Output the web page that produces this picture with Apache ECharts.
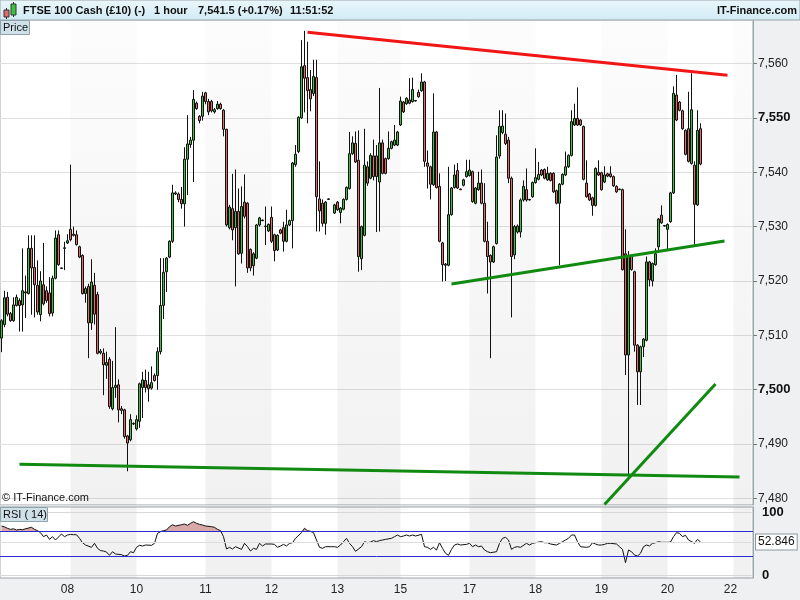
<!DOCTYPE html>
<html>
<head>
<meta charset="utf-8">
<script src="https://cdn.jsdelivr.net/npm/echarts@6/dist/echarts.min.js"></script>
<style>
  html, body { margin: 0; padding: 0; background: #eef0f1; }
  #chart { width: 800px; height: 600px; }
</style>
</head>
<body>
<div id="chart"></div>
<script>
// hourly candles, [open, close, low, high] ; '-' = no bar
const candles = [
  [7509.5,7512.7,7506.9,7513.0],[7512.0,7516.9,7511.5,7518.2],[7517.0,7513.9,7513.5,7518.0],[7514.0,7512.7,7512.5,7514.3],
  [7512.7,7515.6,7512.5,7517.0],[7515.5,7517.0,7515.3,7517.5],[7516.4,7515.5,7510.7,7516.8],[7515.6,7518.2,7510.7,7526.0],
  [7518.0,7517.8,7513.2,7521.0],[7517.7,7526.0,7517.5,7528.4],[7526.0,7522.4,7513.8,7528.4],[7522.5,7519.3,7513.3,7528.4],
  [7519.2,7514.3,7513.8,7523.8],[7513.8,7520.0,7512.6,7521.8],[7519.3,7515.8,7515.5,7527.0],[7518.2,7516.4,7516.0,7519.0],
  [7517.8,7514.0,7513.5,7520.7],[7514.1,7520.5,7513.5,7521.0],[7520.5,7527.9,7520.3,7529.3],[7528.5,7523.0,7522.8,7529.3],
  [7522.3,7522.4,7522.2,7522.5],[7526.0,7526.1,7522.0,7527.2],[7527.0,7527.4,7526.8,7528.6],[7529.5,7527.6,7527.3,7541.4],
  [7528.4,7528.6,7528.2,7530.0],[7528.5,7526.7,7526.5,7529.3],[7526.3,7524.4,7524.2,7526.5],[7524.7,7517.7,7517.5,7524.9],
  [7517.7,7518.6,7516.0,7519.0],[7519.0,7512.3,7505.8,7519.5],[7512.3,7519.8,7511.0,7524.0],[7519.2,7513.9,7512.0,7521.5],
  [7517.5,7506.7,7506.5,7518.0],[7506.8,7507.1,7506.5,7507.5],[7506.7,7504.6,7499.0,7507.6],[7504.5,7505.0,7502.0,7507.0],
  [7505.6,7496.9,7496.5,7506.0],[7496.5,7500.4,7496.2,7505.3],[7500.4,7500.8,7498.5,7511.5],[7500.9,7496.3,7494.0,7501.9],
  [7496.5,7496.2,7495.5,7497.0],[7496.3,7491.4,7491.0,7496.5],[7491.5,7490.2,7485.0,7491.7],[7490.8,7494.5,7490.5,7495.5],
  [7493.7,7493.8,7493.5,7494.0],[7492.8,7494.5,7492.5,7495.3],[7494.2,7501.1,7493.0,7501.3],[7500.4,7501.8,7494.8,7503.3],
  [7501.7,7500.4,7499.5,7503.7],[7500.9,7500.2,7497.8,7503.3],[7500.3,7501.3,7500.0,7504.3],[7502.6,7501.7,7501.5,7503.0],
  [7502.6,7507.0,7500.0,7507.8],[7507.0,7515.5,7506.5,7524.2],[7515.5,7521.6,7513.0,7524.2],[7521.7,7524.2,7518.0,7524.4],
  [7524.4,7527.3,7524.2,7527.5],[7527.3,7536.2,7527.0,7537.7],[7536.2,7536.0,7535.8,7536.5],[7536.0,7535.0,7534.5,7536.3],
  [7535.0,7534.2,7533.3,7537.3],[7534.2,7542.4,7530.0,7544.6],[7542.4,7545.2,7535.8,7550.5],[7545.1,7545.9,7544.5,7546.5],
  [7545.9,7553.4,7538.2,7555.1],[7552.7,7551.7,7551.5,7553.0],[7550.3,7549.5,7549.0,7550.5],[7550.3,7554.0,7549.5,7554.8],
  [7554.6,7553.0,7552.5,7554.8],[7553.0,7551.1,7550.5,7553.5],[7553.0,7551.3,7551.0,7553.3],[7551.1,7551.5,7550.8,7551.8],
  [7551.7,7552.5,7551.5,7553.1],[7552.5,7551.7,7551.5,7552.8],[7551.4,7547.9,7546.6,7551.6],[7547.9,7530.3,7530.0,7548.0],
  [7529.8,7533.6,7529.5,7534.0],[7533.3,7529.4,7527.5,7539.7],[7529.8,7532.8,7519.0,7540.5],[7532.8,7525.0,7524.8,7537.0],
  [7525.1,7533.7,7523.2,7537.4],[7534.5,7531.9,7531.5,7539.6],[7534.3,7522.4,7521.5,7534.5],[7525.8,7522.4,7521.8,7526.0],
  [7522.8,7525.0,7521.0,7525.3],[7524.2,7530.3,7524.0,7530.5],[7530.3,7531.6,7530.0,7531.8],[7531.1,7531.2,7531.0,7531.3],
  [7530.0,7530.1,7526.6,7533.7],[7529.2,7530.4,7529.0,7530.6],[7531.7,7527.3,7527.0,7533.7],[7528.5,7525.6,7523.6,7528.7],
  [7525.7,7528.4,7525.5,7528.6],[7529.4,7528.8,7528.6,7529.6],[7529.8,7527.3,7525.4,7530.9],[7527.3,7530.3,7527.1,7533.1],
  [7530.3,7531.1,7530.1,7531.3],[7531.1,7541.7,7526.0,7541.9],[7541.4,7543.3,7541.0,7545.0],[7543.8,7550.1,7543.5,7550.3],
  [7550.0,7559.4,7549.8,7564.3],[7559.6,7557.3,7551.0,7566.0],[7557.4,7555.0,7549.0,7564.0],[7555.2,7553.5,7551.2,7558.8],
  [7554.5,7557.6,7554.0,7560.7],[7557.4,7535.5,7529.1,7560.7],[7535.1,7532.9,7529.1,7542.0],[7534.3,7530.6,7530.0,7535.0],
  [7530.6,7534.5,7528.5,7534.7],[7535.0,7535.1,7534.9,7535.2],'-',[7532.5,7534.0,7532.3,7534.2],
  [7534.5,7533.1,7532.9,7534.7],[7532.6,7533.4,7530.6,7533.6],[7533.2,7535.0,7533.0,7535.2],[7535.0,7537.2,7534.8,7537.4],
  [7537.0,7543.4,7536.8,7547.4],[7543.4,7545.4,7543.2,7546.6],[7545.3,7541.9,7541.7,7547.5],[7542.2,7524.5,7521.7,7547.7],
  [7524.1,7530.0,7522.0,7530.2],[7528.4,7541.3,7528.2,7548.0],[7541.0,7538.0,7537.5,7542.0],[7538.9,7543.1,7538.7,7543.5],
  [7543.0,7539.2,7538.5,7546.0],[7543.0,7539.2,7529.0,7545.0],[7538.2,7545.4,7529.1,7555.5],[7545.4,7539.8,7539.6,7546.0],
  [7542.5,7539.8,7539.6,7542.7],[7542.5,7544.4,7542.3,7547.5],[7544.4,7545.6,7544.2,7545.8],[7545.0,7545.9,7544.8,7548.7],
  [7545.0,7547.4,7544.8,7547.6],[7548.7,7553.1,7548.5,7553.9],[7552.9,7551.1,7550.9,7553.1],[7552.6,7553.6,7552.4,7553.8],
  [7553.3,7552.7,7552.5,7557.3],[7553.0,7555.2,7552.8,7557.4],[7553.1,7553.2,7553.0,7553.3],[7554.7,7553.9,7553.7,7555.2],
  [7555.0,7556.6,7554.8,7558.2],[7556.6,7542.0,7541.0,7556.8],[7541.7,7541.1,7537.0,7544.0],[7541.0,7537.8,7535.0,7541.2],
  [7537.7,7547.4,7537.5,7554.5],[7547.4,7537.2,7537.0,7547.6],[7537.4,7527.3,7527.1,7539.8],[7527.0,7523.0,7519.9,7527.2],
  [7523.1,7522.9,7520.0,7523.3],[7522.9,7532.2,7522.7,7541.0],[7532.2,7537.1,7532.0,7537.3],[7537.2,7539.5,7537.0,7541.4],
  [7540.3,7537.1,7536.9,7541.7],[7536.8,7536.9,7536.7,7537.0],[7537.6,7538.6,7537.4,7538.8],[7539.2,7540.1,7539.0,7542.3],
  [7539.4,7540.4,7539.2,7542.3],[7540.1,7534.6,7534.4,7540.3],[7534.3,7537.1,7534.1,7537.3],[7536.8,7538.0,7536.6,7540.1],
  [7538.0,7534.3,7534.1,7540.5],[7534.3,7527.3,7527.1,7538.0],[7527.3,7524.5,7517.7,7530.9],[7524.7,7523.5,7505.8,7524.9],
  [7523.5,7526.3,7523.3,7526.5],[7526.9,7542.8,7526.7,7546.8],[7543.0,7548.4,7542.5,7551.4],[7547.3,7548.5,7547.0,7551.4],
  [7547.0,7545.3,7545.0,7550.8],[7545.9,7538.9,7538.0,7546.5],[7538.9,7524.5,7513.3,7539.2],[7524.8,7530.0,7524.0,7530.3],
  [7529.0,7530.1,7528.7,7530.4],[7529.0,7534.9,7528.0,7535.2],[7534.9,7537.4,7534.6,7538.5],[7536.8,7534.9,7534.6,7540.7],
  [7534.9,7535.0,7534.8,7535.1],[7535.5,7538.1,7535.3,7538.3],[7538.1,7539.0,7537.9,7544.4],[7538.7,7539.6,7538.5,7541.9],
  [7540.4,7539.5,7539.3,7540.6],[7540.5,7538.9,7538.7,7540.7],[7538.6,7539.8,7538.4,7541.0],[7539.8,7538.5,7538.3,7540.0],
  [7539.8,7536.4,7536.2,7540.0],[7536.6,7534.3,7534.1,7536.8],[7534.3,7537.8,7522.9,7538.0],[7537.8,7539.6,7537.6,7539.8],
  [7539.5,7541.0,7539.3,7543.8],[7541.0,7543.1,7540.8,7543.3],[7543.1,7549.3,7542.9,7551.4],[7548.7,7549.9,7548.5,7552.6],
  [7549.9,7548.7,7548.5,7555.6],[7549.6,7548.7,7548.5,7549.8],[7548.4,7538.7,7538.5,7548.6],[7538.0,7535.5,7535.3,7542.2],
  [7536.0,7534.9,7534.7,7536.2],[7535.3,7533.9,7532.0,7535.5],[7533.9,7540.7,7533.7,7540.9],[7540.0,7539.5,7539.3,7542.2],
  [7539.9,7536.8,7536.6,7540.1],[7538.2,7539.5,7538.0,7541.1],[7539.7,7539.3,7539.1,7539.9],[7539.7,7539.2,7539.0,7541.1],
  [7539.2,7537.5,7537.3,7539.4],[7537.4,7536.4,7536.2,7537.6],[7536.8,7536.9,7536.7,7537.0],[7536.8,7522.1,7521.9,7537.0],
  [7525.0,7506.4,7502.7,7529.5],[7506.4,7524.5,7484.2,7525.5],[7524.5,7522.1,7521.9,7524.8],[7521.7,7508.2,7507.0,7521.9],
  [7508.2,7503.3,7497.2,7508.4],[7503.3,7507.9,7497.2,7508.1],[7507.9,7509.3,7506.0,7509.5],[7509.1,7523.5,7508.9,7524.5],
  [7523.5,7520.2,7519.0,7523.7],[7520.0,7523.2,7519.0,7523.4],[7523.0,7525.0,7522.8,7526.0],[7526.3,7531.4,7525.6,7531.6],
  [7532.1,7530.7,7530.5,7533.9],[7530.1,7530.2,7530.0,7530.3],[7529.5,7530.4,7525.6,7530.6],[7530.9,7536.2,7530.7,7536.4],
  [7536.2,7554.5,7536.0,7555.8],[7554.2,7549.6,7549.4,7557.9],[7552.9,7551.4,7551.2,7553.1],[7551.3,7548.0,7547.8,7551.5],
  [7547.7,7543.3,7543.1,7547.9],[7548.0,7542.0,7541.8,7554.8],[7541.6,7551.5,7541.4,7558.2],[7541.3,7534.1,7526.6,7542.0],
  [7534.0,7547.7,7533.8,7551.4],[7548.0,7541.5,7541.3,7549.0]
];

// RSI(14), one value per bar (null = not read)
const rsi14 = [
  78.4,77,74.7,73,74,72,73,72.5,74,null,
  76.3,73,71,67.7,61.3,64,57,61.3,56,null,
  65.6,61.3,64,65,64.5,64.5,58.7,51.7,48,null,
  44.3,50.7,42.7,39,38.4,36.8,31.5,37.3,33.6,null,
  32.5,30.4,31.5,37.3,35.7,44.3,47.5,46.4,48,null,
  47.5,50.7,66.7,69.3,71,72,77.3,80.5,78.4,null,
  80.5,81.6,79.5,82.7,85.3,82.7,81,80,78.4,null,
  77.3,76.3,73,71,61.3,41.6,44.3,41.6,45.3,null,
  41,50.7,45.3,38.4,42.7,41,50.7,46.4,49.6,null,
  49.6,49,44.3,46.4,49,46.4,50.7,51.7,58.7,null,
  67.7,74.7,71,69.9,67.7,56,44.3,42.7,45.3,null,
  45.3,45.3,44.3,48,53.3,58.7,50.7,45.3,37.9,null,
  45.3,53.3,51.7,52.7,55,53.3,55,56,57,null,
  58.7,61.3,64,61.3,62.4,64,62.4,64,62.4,null,
  65,45.3,44.3,41,44.3,40,51.7,42.7,34.7,31.5,
  41,48,49.6,48,null,49,50.7,45.3,48,45.3,
  46.4,40,37.3,35.7,null,37.3,50.7,58.7,60.3,56,
  41,44.3,45.3,44.3,null,50.7,48,50.7,51.7,52.7,
  53.3,51.7,51.7,49.6,null,48,50.7,53.3,56,58.7,
  64,64,53.3,45.3,null,44.3,45.3,51.7,49.6,48,
  48,49,50.7,50.7,null,49.6,45.3,41,19.7,40,
  37.3,32,30.4,34.7,45.3,48,46.4,50.7,51.7,53.3,
  52.3,null,52.3,52.7,61.3,67.7,66.7,61.3,63.5,56,
  null,50.7,57,52.846
];

// day labels and the bar slot where each day starts
const dayLabels = ['08', '10', '11', '12', '13', '15', '17', '18', '19', '20', '22'];
const dayStart = [22, 45, 68, 90, 112, 133, 156, 178, 200, 222, 243];
// alternate (shaded) day sessions, [first slot, last slot]
const shadedDays = [[23, 45], [68, 90], [112, 133], [156, 178], [200, 222], [244, 250]];
// hand drawn trend lines: [[slot, price], [slot, price]], colour
const trendLines = [
  [[101.8, 7565.75], [242.2, 7557.85], '#f21515'],
  [[149.5, 7519.45], [241.2, 7527.35], '#118a11'],
  [[6.2, 7486.3], [246.2, 7483.95], '#118a11'],
  [[200.8, 7478.9], [237.8, 7501.05], '#118a11']
];

const slotCount = 251;
const slots = [];
for (let i = 0; i < slotCount; i++) slots.push(String(i));
const lastClose = candles[candles.length - 1][1];
const lastRsi = rsi14[rsi14.length - 1];
const rsiOver = rsi14.map(v => (v == null ? null : Math.max(v, 70)));

const FONT = 'Liberation Sans, Arial, sans-serif';
const isDay = i => dayStart.indexOf(i) >= 0;

const shade = (a, b) => new echarts.graphic.LinearGradient(0, 0, 0, 1, [
  { offset: 0, color: 'rgba(0,0,0,' + a + ')' },
  { offset: 1, color: 'rgba(0,0,0,' + b + ')' }
]);

const headText = (text, x, align) => ({
  type: 'text', z: 11, silent: true, x: x, y: 11,
  style: { text: text, font: 'bold 11px ' + FONT, fill: '#111', align: align || 'left', verticalAlign: 'middle' }
});

const chart = echarts.init(document.getElementById('chart'));
chart.setOption({
  animation: false,
  backgroundColor: '#eef0f1',
  textStyle: { fontFamily: FONT },
  grid: [
    { left: 0, right: 47, top: 20, height: 485, show: true, backgroundColor: '#ffffff', borderColor: '#9aa4ab', borderWidth: 1 },
    { left: 0, right: 47, top: 507, height: 71, show: true, backgroundColor: '#ffffff', borderColor: '#9aa4ab', borderWidth: 1 }
  ],
  xAxis: [
    {
      type: 'category', gridIndex: 0, data: slots, boundaryGap: true,
      axisLine: { show: false }, axisTick: { show: false }, axisLabel: { show: false }, splitLine: { show: false }
    },
    {
      type: 'category', gridIndex: 1, data: slots, boundaryGap: true,
      axisLine: { lineStyle: { color: '#9aa4ab' } },
      axisTick: { alignWithLabel: true, interval: i => isDay(i), length: 4, lineStyle: { color: '#777' } },
      axisLabel: {
        interval: i => isDay(i), margin: 6, color: '#222', fontSize: 12, fontFamily: FONT,
        formatter: (v, i) => dayLabels[dayStart.indexOf(i)] || ''
      },
      splitLine: { show: false }
    }
  ],
  yAxis: [
    {
      type: 'value', gridIndex: 0, position: 'right', min: 7478.8, max: 7568, splitNumber: 9,
      axisLine: { show: true, lineStyle: { color: '#9aa4ab' } },
      axisTick: { show: true, length: 4, lineStyle: { color: '#777' } },
      axisLabel: {
        showMinLabel: false, showMaxLabel: false, margin: 5, fontSize: 12, color: '#222', fontFamily: FONT,
        formatter: v => (v % 50 === 0 ? '{b|' : '{n|') + v.toLocaleString('en-US') + '}',
        rich: {
          b: { fontWeight: 'bold', fontSize: 13, color: '#111', fontFamily: FONT },
          n: { fontSize: 12, color: '#222', fontFamily: FONT }
        }
      },
      splitLine: { show: true, lineStyle: { color: '#e0e0e0' } }
    },
    {
      type: 'value', gridIndex: 1, position: 'right', min: -4.8, max: 108.8, splitNumber: 5,
      axisLine: { show: true, lineStyle: { color: '#9aa4ab' } },
      axisTick: { show: false },
      axisLabel: {
        showMinLabel: false, showMaxLabel: false, margin: 9, fontFamily: FONT,
        formatter: v => (v === 0 || v === 100 ? '{b|' + v + '}' : ''),
        rich: { b: { fontWeight: 'bold', fontSize: 13, color: '#111', fontFamily: FONT } }
      },
      splitLine: { show: false }
    }
  ],
  series: [
    {
      name: 'FTSE 100 Cash', type: 'candlestick', xAxisIndex: 0, yAxisIndex: 0,
      data: candles, barWidth: 3,
      itemStyle: { color: '#3cc43c', color0: '#e36b68', borderColor: '#111', borderColor0: '#111', borderWidth: 1 },
      markArea: {
        silent: true,
        itemStyle: { color: shade(0.012, 0.055) },
        data: shadedDays.map(d => [{ xAxis: d[0] }, { xAxis: d[1] }])
      },
      markLine: {
        silent: true, symbol: ['none', 'none'], animation: false,
        data: trendLines.map(t => [
          { coord: t[0], lineStyle: { color: t[2], width: 3, type: 'solid' }, label: { show: false } },
          { coord: t[1] }
        ]).concat([[
          { coord: [0, lastClose], lineStyle: { opacity: 0 } },
          {
            coord: [slotCount - 1, lastClose],
            label: {
              show: true, position: 'end', distance: 3,
              formatter: lastClose.toLocaleString('en-US', { minimumFractionDigits: 1 }),
              backgroundColor: '#ffd21a', borderColor: '#8a8a8a', borderWidth: 1,
              padding: [2, 2, 1, 2], color: '#000', fontSize: 12, fontFamily: FONT
            }
          }
        ]])
      }
    },
    {
      name: 'RSI over', type: 'line', xAxisIndex: 1, yAxisIndex: 1, data: rsiOver,
      showSymbol: false, connectNulls: true, silent: true,
      lineStyle: { opacity: 0 },
      areaStyle: { color: '#d7a8a5', opacity: 1, origin: 70 },
      markArea: {
        silent: true,
        itemStyle: { color: 'rgba(0,0,0,0.055)' },
        data: shadedDays.map(d => [{ xAxis: d[0] }, { xAxis: d[1] }])
      }
    },
    {
      name: 'RSI', type: 'line', xAxisIndex: 1, yAxisIndex: 1, data: rsi14,
      showSymbol: false, connectNulls: true, silent: true,
      lineStyle: { color: '#111', width: 1 },
      markLine: {
        silent: true, symbol: ['none', 'none'], animation: false,
        label: { show: false },
        data: [
          { yAxis: 100, lineStyle: { color: '#d8d8d8', width: 1, type: 'solid' } },
          { yAxis: 0, lineStyle: { color: '#d8d8d8', width: 1, type: 'solid' } },
          { yAxis: 70, lineStyle: { color: '#2b2bd0', width: 1, type: 'solid' } },
          { yAxis: 30, lineStyle: { color: '#2b2bd0', width: 1, type: 'solid' } },
          {
            yAxis: lastRsi, lineStyle: { color: '#dcdcdc', width: 1, type: 'solid' },
            label: {
              show: true, position: 'end', distance: 3, formatter: String(lastRsi),
              backgroundColor: '#ffffff', borderColor: '#8a98a0', borderWidth: 1,
              padding: [2, 2, 1, 2], color: '#111', fontSize: 12, fontFamily: FONT
            }
          }
        ]
      }
    }
  ],
  graphic: [
    {
      type: 'rect', silent: true, z: 10, shape: { x: 0, y: 0, width: 800, height: 20 },
      style: {
        fill: new echarts.graphic.LinearGradient(0, 0, 0, 1, [
          { offset: 0, color: '#eaf7fc' }, { offset: 1, color: '#d2ebf4' }
        ]),
        stroke: '#9aa4ab', lineWidth: 1
      }
    },
    // small candle icon
    { type: 'line', z: 11, silent: true, shape: { x1: 6.5, y1: 8, x2: 6.5, y2: 19 }, style: { stroke: '#333', lineWidth: 1 } },
    { type: 'rect', z: 11, silent: true, shape: { x: 4, y: 10, width: 5, height: 7 }, style: { fill: '#e36b68', stroke: '#333', lineWidth: 1 } },
    { type: 'line', z: 11, silent: true, shape: { x1: 13.5, y1: 2, x2: 13.5, y2: 17 }, style: { stroke: '#333', lineWidth: 1 } },
    { type: 'rect', z: 11, silent: true, shape: { x: 11, y: 4, width: 5, height: 11 }, style: { fill: '#3cc43c', stroke: '#333', lineWidth: 1 } },
    headText('FTSE 100 Cash (£10) (-)', 23),
    headText('1 hour', 154),
    headText('7,541.5 (+0.17%)', 198),
    headText('11:51:52', 290),
    headText('IT-Finance.com', 797, 'right'),
    {
      type: 'rect', z: 11, silent: true, shape: { x: 0.5, y: 20.5, width: 29, height: 14 },
      style: { fill: '#cfe0e8', stroke: '#8fa3ad', lineWidth: 1 }
    },
    {
      type: 'text', z: 12, silent: true, x: 3, y: 28,
      style: { text: 'Price', font: '11px ' + FONT, fill: '#111', align: 'left', verticalAlign: 'middle' }
    },
    {
      type: 'text', z: 11, silent: true, x: 2, y: 498,
      style: { text: '© IT-Finance.com', font: '11px ' + FONT, fill: '#111', align: 'left', verticalAlign: 'middle' }
    },
    {
      type: 'rect', z: 11, silent: true, shape: { x: 0.5, y: 507.5, width: 47, height: 14 },
      style: { fill: '#cfe0e8', stroke: '#8fa3ad', lineWidth: 1 }
    },
    {
      type: 'text', z: 12, silent: true, x: 3, y: 515,
      style: { text: 'RSI ( 14)', font: '11px ' + FONT, fill: '#111', align: 'left', verticalAlign: 'middle' }
    }
  ]
});
</script>
</body>
</html>
